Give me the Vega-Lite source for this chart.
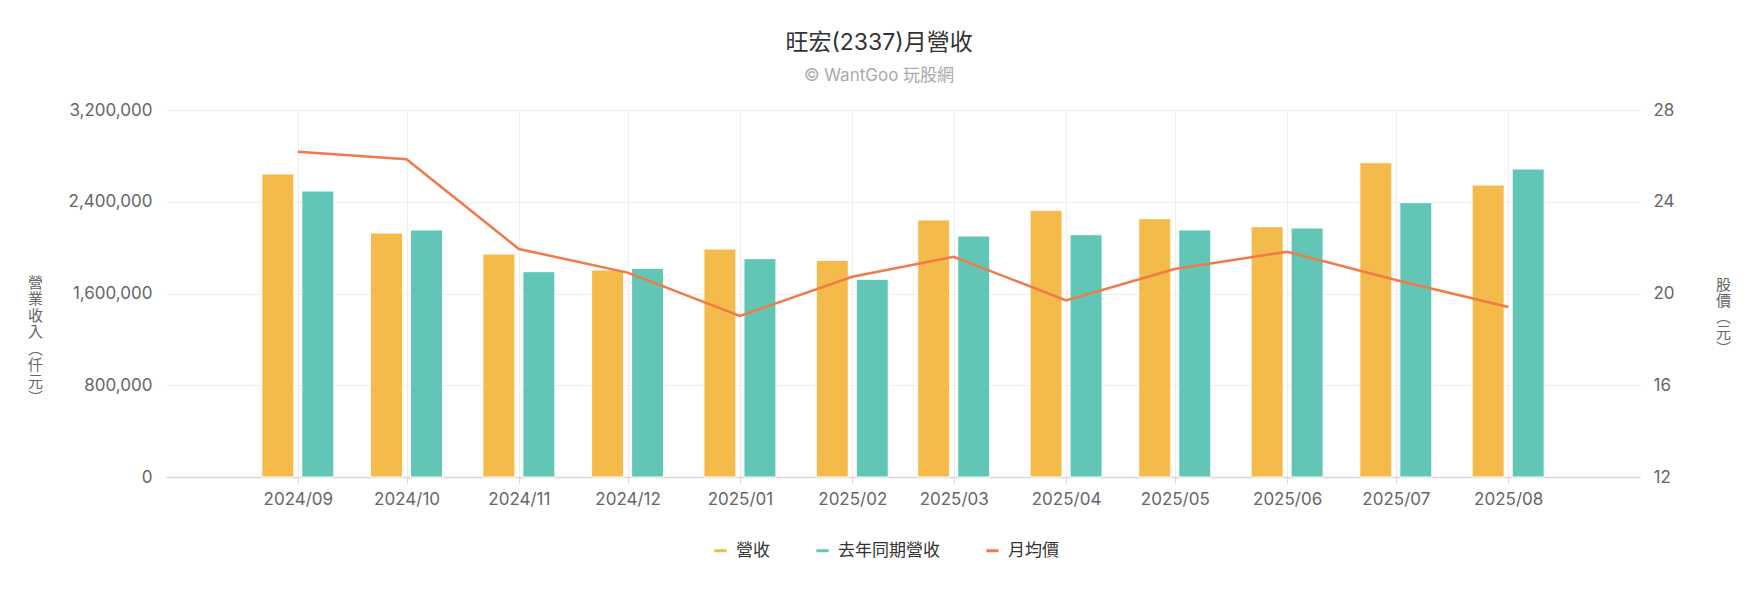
{
  "$schema": "https://vega.github.io/schema/vega-lite/v6.json",
  "width": 1474,
  "height": 367,
  "autosize": {"type": "none"},
  "padding": {"left": 166, "top": 110, "right": 110, "bottom": 119},
  "background": "#ffffff",
  "title": {
    "text": "旺宏(2337)月營收",
    "subtitle": "© WantGoo 玩股網",
    "anchor": "middle",
    "frame": "bounds",
    "font": "Inter, 'Noto Sans CJK TC', sans-serif",
    "fontSize": 23,
    "fontWeight": "normal",
    "color": "#333333",
    "subtitleFont": "Inter, 'Noto Sans CJK TC', sans-serif",
    "subtitleFontSize": 17,
    "subtitleColor": "#aaaaaa",
    "subtitlePadding": 13,
    "offset": 17
  },
  "data": {
    "values": [
      {"month": "2024-09-01", "rev": 2642000, "prev": 2493700, "price": 26.18},
      {"month": "2024-10-01", "rev": 2127500, "prev": 2153700, "price": 25.85},
      {"month": "2024-11-01", "rev": 1944400, "prev": 1790300, "price": 21.94},
      {"month": "2024-12-01", "rev": 1804900, "prev": 1819400, "price": 20.91},
      {"month": "2025-01-01", "rev": 1988000, "prev": 1903600, "price": 19.02},
      {"month": "2025-02-01", "rev": 1889300, "prev": 1723600, "price": 20.73},
      {"month": "2025-03-01", "rev": 2240900, "prev": 2101400, "price": 21.60},
      {"month": "2025-04-01", "rev": 2325200, "prev": 2112900, "price": 19.70},
      {"month": "2025-05-01", "rev": 2252500, "prev": 2153700, "price": 21.07},
      {"month": "2025-06-01", "rev": 2182700, "prev": 2171000, "price": 21.82},
      {"month": "2025-07-01", "rev": 2740500, "prev": 2392000, "price": 20.59},
      {"month": "2025-08-01", "rev": 2546000, "prev": 2685600, "price": 19.41}
    ]
  },
  "encoding": {
    "x": {
      "field": "month",
      "type": "temporal",
      "scale": {
        "type": "utc",
        "domain": [
          {"year": 2024, "month": 7, "date": 28, "utc": true},
          {"year": 2025, "month": 9, "date": 5, "utc": true}
        ]
      },
      "axis": {
        "title": null,
        "format": "%Y/%m",
        "values": [
          {"year": 2024, "month": 9, "date": 1, "utc": true},
          {"year": 2024, "month": 10, "date": 1, "utc": true},
          {"year": 2024, "month": 11, "date": 1, "utc": true},
          {"year": 2024, "month": 12, "date": 1, "utc": true},
          {"year": 2025, "month": 1, "date": 1, "utc": true},
          {"year": 2025, "month": 2, "date": 1, "utc": true},
          {"year": 2025, "month": 3, "date": 1, "utc": true},
          {"year": 2025, "month": 4, "date": 1, "utc": true},
          {"year": 2025, "month": 5, "date": 1, "utc": true},
          {"year": 2025, "month": 6, "date": 1, "utc": true},
          {"year": 2025, "month": 7, "date": 1, "utc": true},
          {"year": 2025, "month": 8, "date": 1, "utc": true}
        ],
        "grid": true,
        "gridColor": "#eeeeee",
        "domainColor": "#d6d6d6",
        "domainWidth": 1.5,
        "tickColor": "#d6d6d6",
        "tickSize": 6,
        "labelFontSize": 17,
        "labelColor": "#666666",
        "labelPadding": 8,
        "labelFont": "Inter, 'Noto Sans CJK TC', sans-serif"
      }
    }
  },
  "layer": [
    {
      "encoding": {
        "y": {
          "type": "quantitative",
          "scale": {"domain": [0, 3200000], "nice": false},
          "axis": {
            "orient": "left",
            "values": [0, 800000, 1600000, 2400000, 3200000],
            "format": ",d",
            "grid": true,
            "gridColor": "#eeeeee",
            "domain": false,
            "ticks": false,
            "labelPadding": 14,
            "labelFontSize": 17,
            "labelColor": "#666666",
            "labelFont": "Inter, 'Noto Sans CJK TC', sans-serif",
            "title": ["營", "業", "收", "入", "︵", "仟", "元", "︶"],
            "titleAngle": 0,
            "titleX": -131,
            "titleY": 165,
            "titleAlign": "center",
            "titleBaseline": "top",
            "titleLineHeight": 16.5,
            "titleFontSize": 15,
            "titleFontWeight": "normal",
            "titleColor": "#666666",
            "titleFont": "'Noto Sans CJK TC', sans-serif"
          }
        }
      },
      "layer": [
        {
          "mark": {"type": "bar", "width": 32, "xOffset": -20, "stroke": "#ffffff", "strokeWidth": 1},
          "encoding": {
            "y": {"field": "rev", "type": "quantitative"},
            "color": {"datum": "營收"}
          }
        },
        {
          "mark": {"type": "bar", "width": 32, "xOffset": 20, "stroke": "#ffffff", "strokeWidth": 1},
          "encoding": {
            "y": {"field": "prev", "type": "quantitative"},
            "color": {"datum": "去年同期營收"}
          }
        }
      ]
    },
    {
      "mark": {"type": "line", "strokeWidth": 2.5},
      "encoding": {
        "y": {
          "field": "price",
          "type": "quantitative",
          "scale": {"domain": [12, 28], "nice": false, "zero": false},
          "axis": {
            "orient": "right",
            "values": [12, 16, 20, 24, 28],
            "grid": false,
            "domain": false,
            "ticks": false,
            "labelPadding": 13,
            "labelFontSize": 17,
            "labelColor": "#666666",
            "labelFont": "Inter, 'Noto Sans CJK TC', sans-serif",
            "title": ["股", "價", "︵", "元", "︶"],
            "titleAngle": 0,
            "titleX": 83,
            "titleY": 167,
            "titleAlign": "center",
            "titleBaseline": "top",
            "titleLineHeight": 16,
            "titleFontSize": 15,
            "titleFontWeight": "normal",
            "titleColor": "#666666",
            "titleFont": "'Noto Sans CJK TC', sans-serif"
          }
        },
        "color": {"datum": "月均價"}
      }
    }
  ],
  "resolve": {"scale": {"y": "independent"}},
  "config": {
    "view": {"stroke": null},
    "range": {
      "category": ["#F4BA4A", "#62C6B6", "#EE7B48"]
    },
    "legend": {
      "orient": "none",
      "legendX": 546,
      "legendY": 432,
      "direction": "horizontal",
      "title": null,
      "symbolType": "stroke",
      "symbolSize": 150,
      "symbolStrokeWidth": 3,
      "labelFontSize": 17,
      "labelColor": "#333333",
      "labelFont": "'Noto Sans CJK TC', sans-serif",
      "labelOffset": 7,
      "columnPadding": 40
    }
  }
}
